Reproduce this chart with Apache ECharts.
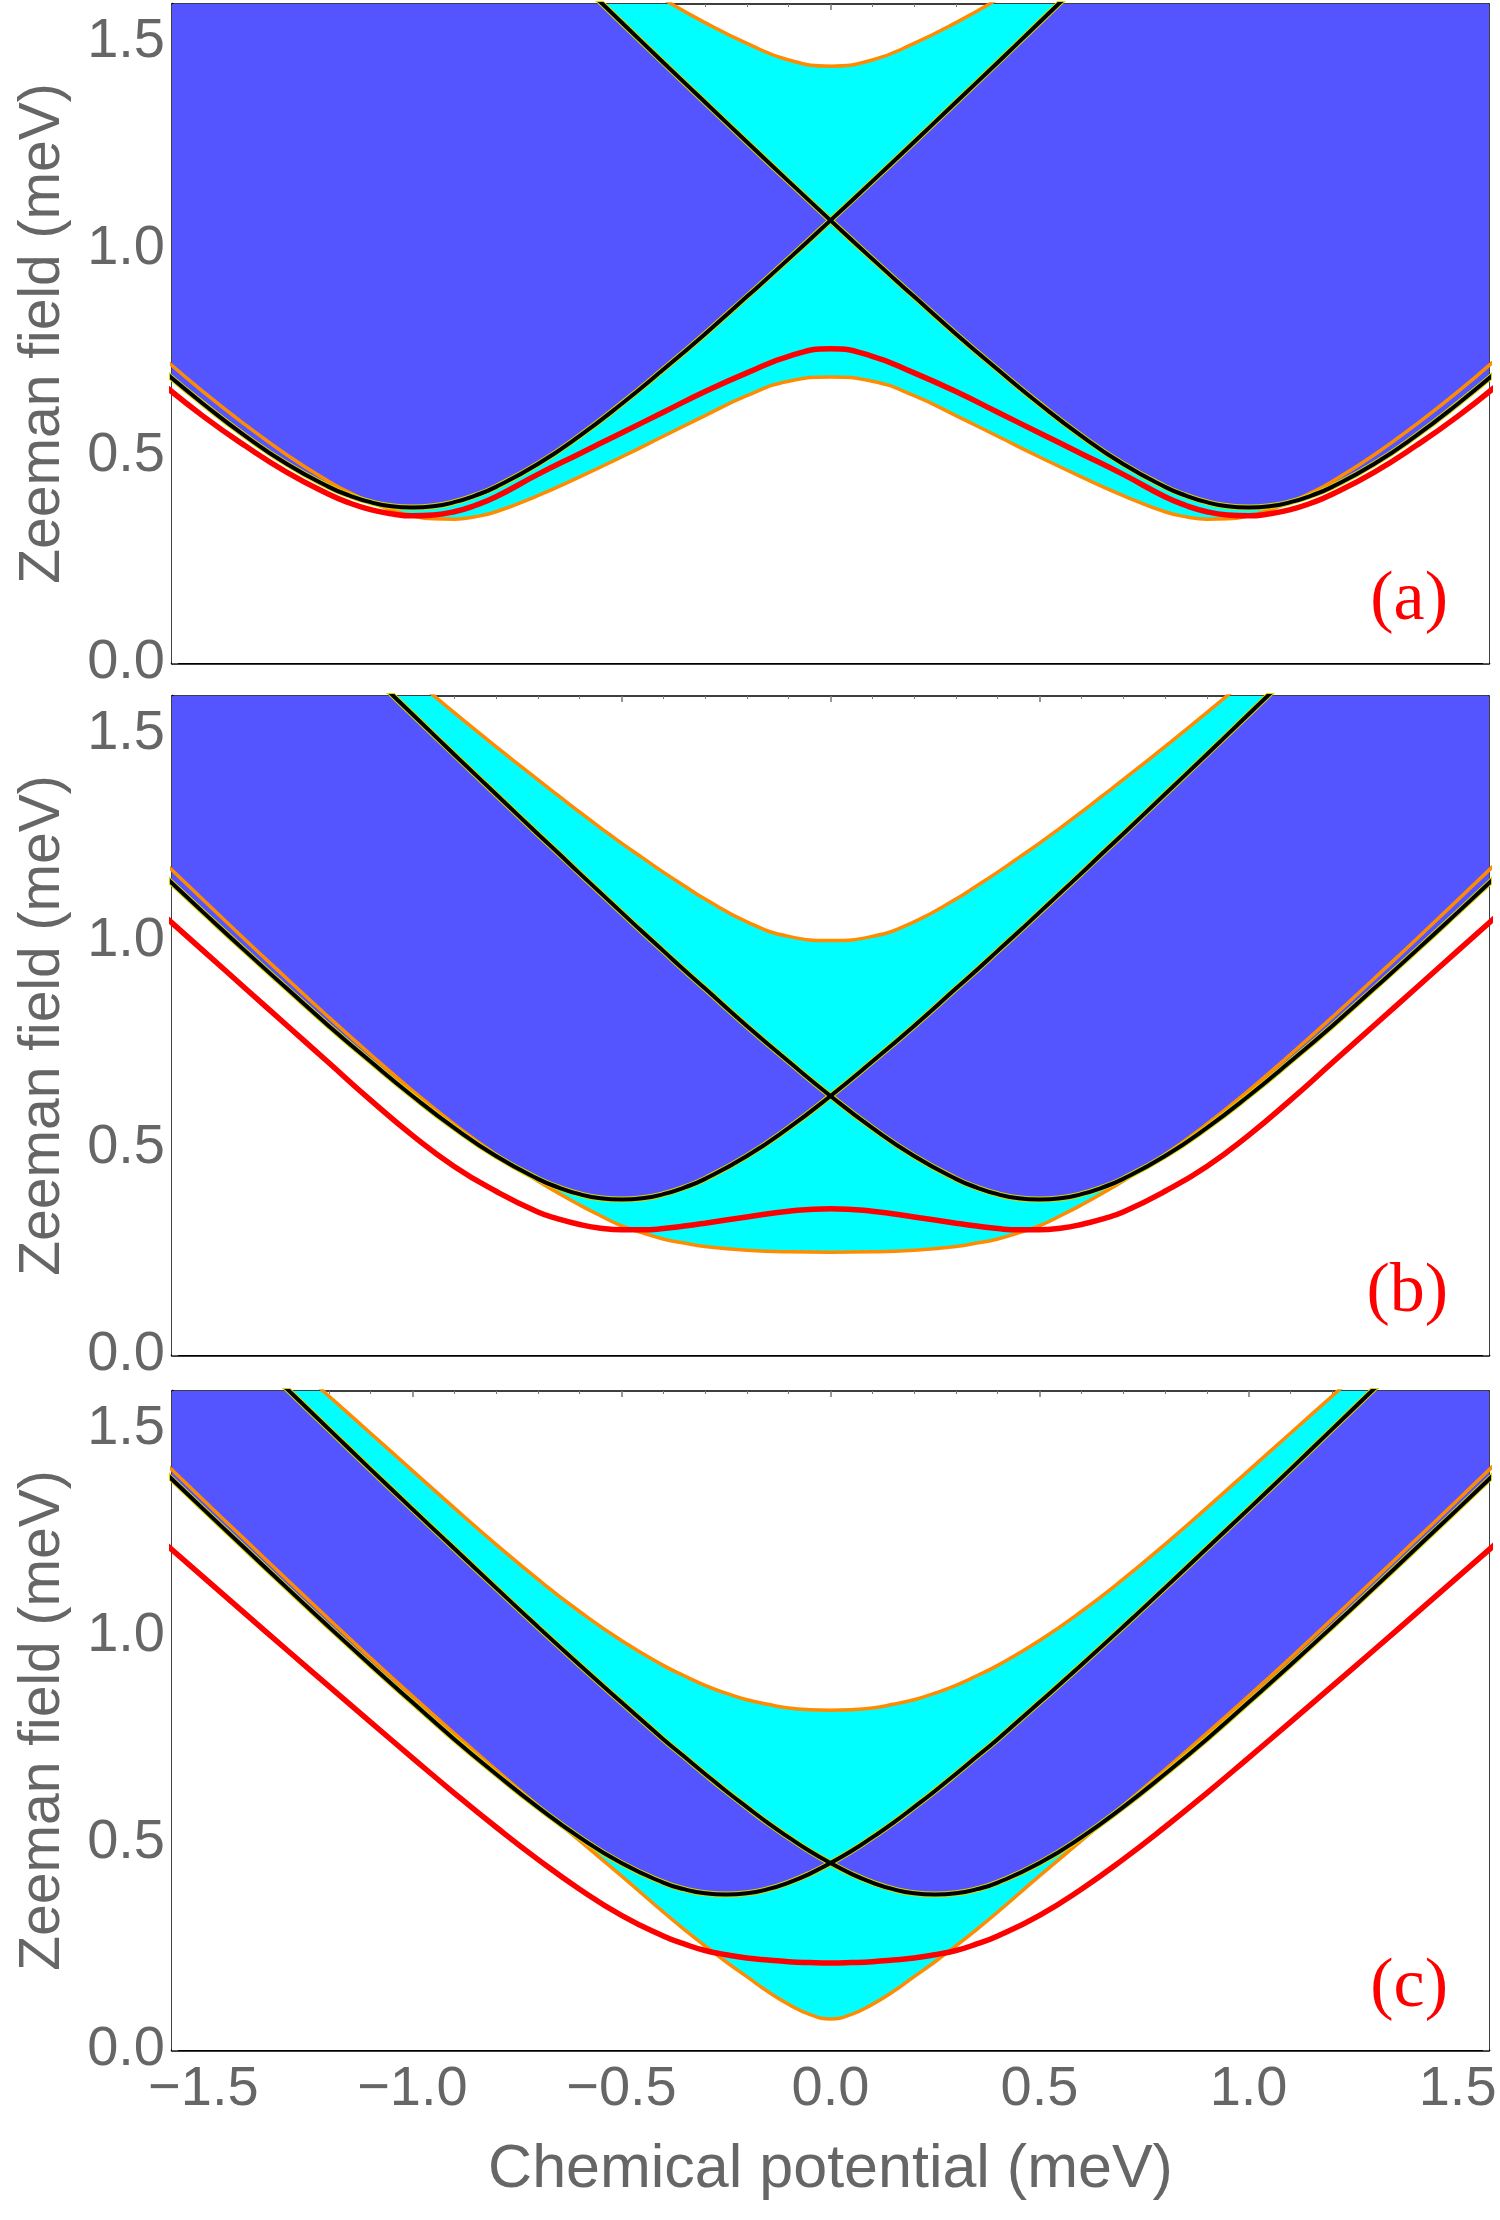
<!DOCTYPE html>
<html>
<head>
<meta charset="utf-8">
<script src="https://cdn.jsdelivr.net/npm/echarts@6/dist/echarts.min.js"></script>
<style>
html, body { margin: 0; padding: 0; background: #fff; }
#main { width: 1500px; height: 2220px; }
</style>
</head>
<body>
<div id="main"></div>
<script>
// panel (a): chemical potential samples (meV) and curves
var muA = [-1.6,-1.5,-1.4,-1.3,-1.2,-1.15,-1.1,-1.05,-1.0,-0.95,-0.9,-0.85,-0.8,-0.7,-0.6,-0.5,-0.4,-0.3,-0.2,-0.1,0,0.1,0.2,0.3,0.4,0.5,0.6,0.7,0.8,0.85,0.9,0.95,1.0,1.05,1.1,1.15,1.2,1.3,1.4,1.5,1.6];
var blackLeftA  = [0.708,0.625,0.548,0.480,0.425,0.404,0.388,0.378,0.375,0.378,0.388,0.404,0.425,0.480,0.548,0.625,0.708,0.794,0.884,0.975,1.068,1.162,1.257,1.353,1.449,1.546,1.643,1.741,1.839,1.888,1.937,1.986,2.035,2.084,2.133,2.182,2.232,2.330,2.429,2.528,2.627];
var blackRightA = [2.627,2.528,2.429,2.330,2.232,2.182,2.133,2.084,2.035,1.986,1.937,1.888,1.839,1.741,1.643,1.546,1.449,1.353,1.257,1.162,1.068,0.975,0.884,0.794,0.708,0.625,0.548,0.480,0.425,0.404,0.388,0.378,0.375,0.378,0.388,0.404,0.425,0.480,0.548,0.625,0.708];
var lowerOrangeA = [0.74,0.654,0.575,0.502,0.438,0.411,0.388,0.369,0.355,0.348,0.347,0.353,0.365,0.404,0.449,0.497,0.547,0.597,0.645,0.68,0.69,0.68,0.645,0.597,0.547,0.497,0.449,0.404,0.365,0.353,0.347,0.348,0.355,0.369,0.388,0.411,0.438,0.502,0.575,0.654,0.74];
var upperOrangeA = [2.617,2.527,2.437,2.347,2.257,2.212,2.167,2.122,2.077,2.032,1.987,1.943,1.90,1.817,1.739,1.667,1.602,1.545,1.495,1.455,1.44,1.455,1.495,1.545,1.602,1.667,1.739,1.817,1.90,1.943,1.987,2.032,2.077,2.122,2.167,2.212,2.257,2.347,2.437,2.527,2.617];
var redA = [0.675,0.595,0.524,0.46,0.407,0.386,0.37,0.36,0.355,0.357,0.365,0.38,0.401,0.455,0.505,0.555,0.605,0.655,0.70,0.74,0.758,0.74,0.70,0.655,0.605,0.555,0.505,0.455,0.401,0.38,0.365,0.357,0.355,0.36,0.37,0.386,0.407,0.46,0.524,0.595,0.675];

// panel (b)
var muB = [-1.6,-1.5,-1.4,-1.3,-1.2,-1.1,-1.0,-0.9,-0.8,-0.7,-0.65,-0.6,-0.55,-0.5,-0.45,-0.4,-0.35,-0.3,-0.2,-0.1,0,0.1,0.2,0.3,0.35,0.4,0.45,0.5,0.55,0.6,0.65,0.7,0.8,0.9,1.0,1.1,1.2,1.3,1.4,1.5,1.6];
var blackLeftB  = [1.162,1.068,0.975,0.884,0.794,0.708,0.625,0.548,0.480,0.425,0.404,0.388,0.378,0.375,0.378,0.388,0.404,0.425,0.480,0.548,0.625,0.708,0.794,0.884,0.929,0.975,1.021,1.068,1.115,1.162,1.210,1.257,1.353,1.449,1.546,1.643,1.741,1.839,1.937,2.035,2.133];
var blackRightB = [2.133,2.035,1.937,1.839,1.741,1.643,1.546,1.449,1.353,1.257,1.210,1.162,1.115,1.068,1.021,0.975,0.929,0.884,0.794,0.708,0.625,0.548,0.480,0.425,0.404,0.388,0.378,0.375,0.378,0.388,0.404,0.425,0.480,0.548,0.625,0.708,0.794,0.884,0.975,1.068,1.162];
var lowerOrangeB = [1.194,1.098,1.002,0.908,0.815,0.725,0.638,0.557,0.484,0.42,0.39,0.362,0.336,0.312,0.295,0.28,0.27,0.262,0.253,0.249,0.248,0.249,0.253,0.262,0.27,0.28,0.295,0.312,0.336,0.362,0.39,0.42,0.484,0.557,0.638,0.725,0.815,0.908,1.002,1.098,1.194];
var upperOrangeB = [2.159,2.069,1.98,1.892,1.805,1.719,1.634,1.55,1.468,1.388,1.349,1.31,1.272,1.235,1.20,1.165,1.132,1.10,1.045,1.01,1.0,1.01,1.045,1.10,1.132,1.165,1.20,1.235,1.272,1.31,1.349,1.388,1.468,1.55,1.634,1.719,1.805,1.892,1.98,2.069,2.159];
var redB = [1.065,0.975,0.885,0.795,0.705,0.615,0.53,0.455,0.395,0.345,0.328,0.315,0.306,0.302,0.302,0.305,0.311,0.318,0.333,0.347,0.353,0.347,0.333,0.318,0.311,0.305,0.302,0.302,0.306,0.315,0.328,0.345,0.395,0.455,0.53,0.615,0.705,0.795,0.885,0.975,1.065];

// panel (c)
var muC = [-1.6,-1.5,-1.4,-1.3,-1.2,-1.1,-1.0,-0.9,-0.8,-0.7,-0.6,-0.5,-0.4,-0.35,-0.3,-0.25,-0.2,-0.15,-0.1,-0.05,0,0.05,0.1,0.15,0.2,0.25,0.3,0.35,0.4,0.5,0.6,0.7,0.8,0.9,1.0,1.1,1.2,1.3,1.4,1.5,1.6];
var blackLeftC  = [1.401,1.305,1.210,1.115,1.021,0.929,0.839,0.750,0.666,0.586,0.513,0.451,0.404,0.388,0.378,0.375,0.378,0.388,0.404,0.425,0.451,0.480,0.513,0.548,0.586,0.625,0.666,0.708,0.750,0.839,0.929,1.021,1.115,1.210,1.305,1.401,1.498,1.595,1.692,1.790,1.888];
var blackRightC = [1.888,1.790,1.692,1.595,1.498,1.401,1.305,1.210,1.115,1.021,0.929,0.839,0.750,0.708,0.666,0.625,0.586,0.548,0.513,0.480,0.451,0.425,0.404,0.388,0.378,0.375,0.378,0.388,0.404,0.451,0.513,0.586,0.666,0.750,0.839,0.929,1.021,1.115,1.210,1.305,1.401];
var lowerOrangeC = [1.424,1.327,1.231,1.135,1.04,0.946,0.854,0.764,0.676,0.59,0.505,0.42,0.333,0.291,0.251,0.213,0.177,0.141,0.11,0.086,0.075,0.086,0.11,0.141,0.177,0.213,0.251,0.291,0.333,0.42,0.505,0.59,0.676,0.764,0.854,0.946,1.04,1.135,1.231,1.327,1.424];
var upperOrangeC = [1.938,1.848,1.758,1.668,1.578,1.488,1.398,1.308,1.22,1.136,1.058,0.988,0.928,0.903,0.88,0.861,0.845,0.834,0.825,0.821,0.82,0.821,0.825,0.834,0.845,0.861,0.88,0.903,0.928,0.988,1.058,1.136,1.22,1.308,1.398,1.488,1.578,1.668,1.758,1.848,1.938];
var redC = [1.229,1.141,1.053,0.965,0.878,0.791,0.705,0.62,0.538,0.46,0.388,0.325,0.275,0.256,0.24,0.23,0.222,0.217,0.213,0.211,0.21,0.211,0.213,0.217,0.222,0.23,0.24,0.256,0.275,0.325,0.388,0.46,0.538,0.62,0.705,0.791,0.878,0.965,1.053,1.141,1.229];

// ticks
var xMajorTicks = [-1.5,-1.0,-0.5,0,0.5,1.0,1.5];
var xMinorTicks = [-1.4,-1.3,-1.2,-1.1,-0.9,-0.8,-0.7,-0.6,-0.4,-0.3,-0.2,-0.1,0.1,0.2,0.3,0.4,0.6,0.7,0.8,0.9,1.1,1.2,1.3,1.4];
var yMajorTicks = [0,0.5,1.0,1.5];
var yMinorTicks = [0.1,0.2,0.3,0.4,0.6,0.7,0.8,0.9,1.1,1.2,1.3,1.4];
var panelLabels = ['(a)','(b)','(c)'];

var panels = [
  {mu: muA, bl: blackLeftA, br: blackRightA, lo: lowerOrangeA, up: upperOrangeA, red: redA},
  {mu: muB, bl: blackLeftB, br: blackRightB, lo: lowerOrangeB, up: upperOrangeB, red: redB},
  {mu: muC, bl: blackLeftC, br: blackRightC, lo: lowerOrangeC, up: upperOrangeC, red: redC}
];
var gridTops = [4, 696, 1391];
var gridH = 659;

var TXT = '#666666';
var FONT = 'Liberation Sans';
var SM = 0.5;

function fmtX(v) {
  return (v < 0 ? '\u2212' : '') + Math.abs(v).toFixed(1);
}

var grids = [], xAxes = [], yAxes = [], series = [], graphics = [];

panels.forEach(function (p, i) {
  function pairs(ys) {
    return p.mu.map(function (m, k) { return [m, ys[k]]; });
  }
  grids.push({left: 172, top: gridTops[i], width: 1317, height: gridH, show: false});

  var tickMaj = {show: true, inside: true, length: 6, lineStyle: {color: '#777', width: 1.5}};
  var tickMin = {show: true, inside: true, length: 3, lineStyle: {color: '#777', width: 1}};
  var line = function (w) { return {show: true, onZero: false, lineStyle: {color: '#000', width: w}}; };
  var noLine = {show: false, onZero: false};

  var xb = {gridIndex: i, type: 'value', min: -1.575, max: 1.575, splitLine: {show: false}};
  xAxes.push(Object.assign({}, xb, {
    position: 'bottom', axisLine: line(2.5),
    axisTick: Object.assign({customValues: xMajorTicks}, tickMaj),
    axisLabel: {show: i === 2, customValues: xMajorTicks, formatter: fmtX,
                fontSize: 56, fontFamily: FONT, color: TXT, margin: 12},
    name: i === 2 ? 'Chemical potential (meV)' : '',
    nameLocation: 'middle', nameGap: 90,
    nameTextStyle: {fontSize: 61, fontFamily: FONT, color: TXT}
  }));
  xAxes.push(Object.assign({}, xb, {position: 'bottom', axisLine: noLine,
    axisTick: Object.assign({customValues: xMinorTicks}, tickMin), axisLabel: {show: false}}));
  xAxes.push(Object.assign({}, xb, {position: 'top', axisLine: line(1.5),
    axisTick: Object.assign({customValues: xMajorTicks}, tickMaj), axisLabel: {show: false}}));
  xAxes.push(Object.assign({}, xb, {position: 'top', axisLine: noLine,
    axisTick: Object.assign({customValues: xMinorTicks}, tickMin), axisLabel: {show: false}}));

  var yb = {gridIndex: i, type: 'value', min: 0, max: 1.59, splitLine: {show: false}};
  yAxes.push(Object.assign({}, yb, {
    position: 'left', axisLine: line(2.5),
    axisTick: Object.assign({customValues: yMajorTicks}, tickMaj),
    axisLabel: {customValues: yMajorTicks, formatter: function (v) { return v.toFixed(1); },
                fontSize: 56, fontFamily: FONT, color: TXT, margin: 7},
    name: 'Zeeman field (meV)', nameLocation: 'middle', nameGap: 100,
    nameTextStyle: {fontSize: 57, fontFamily: FONT, color: TXT}
  }));
  yAxes.push(Object.assign({}, yb, {position: 'left', axisLine: noLine,
    axisTick: Object.assign({customValues: yMinorTicks}, tickMin), axisLabel: {show: false}}));
  yAxes.push(Object.assign({}, yb, {position: 'right', axisLine: line(1.5),
    axisTick: Object.assign({customValues: yMajorTicks}, tickMaj), axisLabel: {show: false}}));
  yAxes.push(Object.assign({}, yb, {position: 'right', axisLine: noLine,
    axisTick: Object.assign({customValues: yMinorTicks}, tickMin), axisLabel: {show: false}}));

  var ax = {type: 'line', xAxisIndex: i * 4, yAxisIndex: i * 4, symbol: 'none',
            silent: true, animation: false};

  var bMax = p.bl.map(function (v, k) { return Math.max(v, p.br[k]); });
  var bMin = p.bl.map(function (v, k) { return Math.min(v, p.br[k]); });
  var whiteTop = p.lo.map(function (v, k) { return Math.min(v, bMin[k]); });

  // filled regions, painted bottom-up in layers
  function fill(data, color, smooth) {
    series.push(Object.assign({}, ax, {data: pairs(data), smooth: smooth,
      lineStyle: {width: 0, opacity: 0}, areaStyle: {color: color, opacity: 1, origin: 'start'}}));
  }
  fill(p.up, '#00FFFF', SM);       // cyan below upper orange boundary
  fill(bMax, '#5555FF', false);    // blue below upper black curve
  fill(bMin, '#00FFFF', false);    // cyan again below lower black curve
  fill(whiteTop, '#FFFFFF', SM);   // white below lower orange boundary

  // boundary curves
  [p.up, p.lo].forEach(function (d) {
    series.push(Object.assign({}, ax, {smooth: SM, data: pairs(d),
      lineStyle: {color: '#FF8C00', width: 3.5}}));
  });
  [p.bl, p.br].forEach(function (d) {
    series.push(Object.assign({}, ax, {smooth: SM, data: pairs(d),
      lineStyle: {color: '#D6D600', width: 6}}));
  });
  [p.bl, p.br].forEach(function (d) {
    series.push(Object.assign({}, ax, {smooth: SM, data: pairs(d),
      lineStyle: {color: '#000000', width: 4}}));
  });
  series.push(Object.assign({}, ax, {smooth: SM, data: pairs(p.red),
    lineStyle: {color: '#FF0000', width: 5.5}}));

  graphics.push({type: 'text', x: 1448, y: gridTops[i] + gridH - 62, z: 100,
    style: {text: panelLabels[i], font: '70px "Liberation Serif"', fill: '#FF0000',
            textAlign: 'right', textVerticalAlign: 'middle'}});
});

var myChart = echarts.init(document.getElementById('main'));
var option = {
  animation: false,
  backgroundColor: '#ffffff',
  grid: grids,
  xAxis: xAxes,
  yAxis: yAxes,
  series: series,
  graphic: graphics
};
myChart.setOption(option);
</script>
</body>
</html>
